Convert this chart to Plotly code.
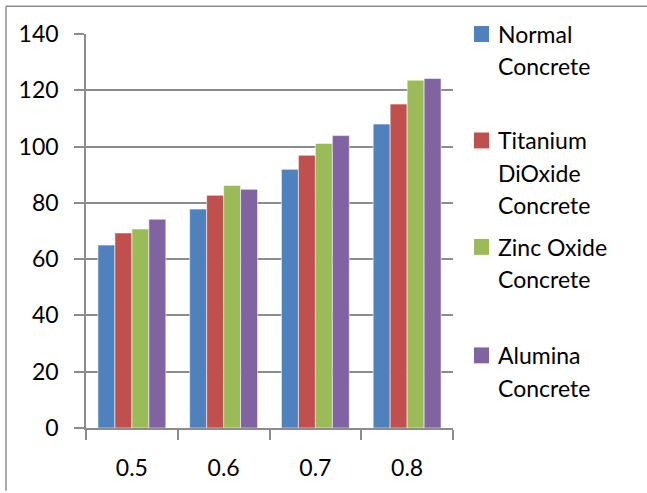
import plotly.graph_objects as go

# Water/cement ratio categories and strength values for each concrete mix
categories = ["0.5", "0.6", "0.7", "0.8"]
normal_concrete = [65.0, 77.8, 91.9, 108.0]
titanium_dioxide_concrete = [69.3, 82.7, 96.9, 115.1]
zinc_oxide_concrete = [70.7, 86.2, 101.1, 123.6]
alumina_concrete = [74.2, 84.8, 103.9, 124.2]

series_names = ["Normal Concrete", "Titanium DiOxide Concrete",
                "Zinc Oxide Concrete", "Alumina Concrete"]
legend_lines = [["Normal", "Concrete"], ["Titanium", "DiOxide", "Concrete"],
                ["Zinc Oxide", "Concrete"], ["Alumina", "Concrete"]]
series_values = [normal_concrete, titanium_dioxide_concrete,
                 zinc_oxide_concrete, alumina_concrete]
series_colors = ["#4F81BD", "#C0504D", "#9BBB59", "#8064A2"]

W, H = 647, 493
PLOT_L, PLOT_R, PLOT_T, PLOT_B = 86, 453, 34, 430
FONT = "Lato"
GRID = "#8C8C8C"


def px_x(x):
    return (x - PLOT_L) / (PLOT_R - PLOT_L)


def px_y(y):
    return (PLOT_B - y) / (PLOT_B - PLOT_T)


fig = go.Figure()
for name, vals, color in zip(series_names, series_values, series_colors):
    fig.add_trace(go.Bar(
        x=categories, y=vals, name=name,
        marker=dict(color=color, line=dict(color="rgba(255,255,255,0.55)", width=1)),
        showlegend=False,
    ))

# Legend built from colour squares and wrapped labels on the right
legend_rows = [34, 141, 248, 357]
line_step = 32.5
shapes = []
annotations = []
for lines, color, row in zip(legend_lines, series_colors, legend_rows):
    shapes.append(dict(type="rect", xref="paper", yref="paper",
                       x0=px_x(474), x1=px_x(489), y0=px_y(row - 8), y1=px_y(row + 8),
                       fillcolor=color, line=dict(width=0)))
    for i, text in enumerate(lines):
        annotations.append(dict(xref="paper", yref="paper", x=px_x(496),
                                y=px_y(row + i * line_step),
                                xanchor="left", yanchor="middle", align="left",
                                showarrow=False, text=text,
                                font=dict(family=FONT, size=23, color="#000000")))

# Outer frame: top and left edges
shapes.append(dict(type="line", xref="paper", yref="paper",
                   x0=px_x(6), x1=px_x(647), y0=px_y(6), y1=px_y(6),
                   line=dict(color=GRID, width=1.5)))
shapes.append(dict(type="line", xref="paper", yref="paper",
                   x0=px_x(6), x1=px_x(6), y0=px_y(6), y1=px_y(493),
                   line=dict(color=GRID, width=1.5)))

fig.update_layout(
    width=W, height=H,
    margin=dict(l=PLOT_L, r=W - PLOT_R, t=PLOT_T, b=H - PLOT_B, pad=0),
    paper_bgcolor="white", plot_bgcolor="white",
    barmode="group", bargap=0.26, bargroupgap=0,
    font=dict(family=FONT, size=23, color="#000000"),
    shapes=shapes, annotations=annotations,
)
fig.update_xaxes(
    type="category", showline=True, linecolor=GRID, linewidth=1.5,
    ticks="outside", tickson="boundaries", ticklen=10, tickcolor=GRID, tickwidth=1.5,
    showgrid=False, ticklabelstandoff=19, tickfont=dict(family=FONT, size=23),
)
fig.update_yaxes(
    range=[0, 140], dtick=20, showline=True, linecolor=GRID, linewidth=1.5,
    ticks="outside", ticklen=10, tickcolor=GRID, tickwidth=1.5,
    showgrid=True, gridcolor=GRID, gridwidth=1.5, zeroline=False,
    ticklabelstandoff=11, tickfont=dict(family=FONT, size=23),
)

fig.write_html("out.html")
